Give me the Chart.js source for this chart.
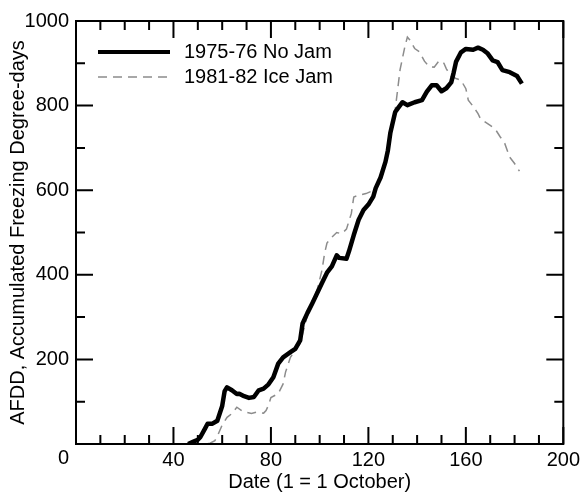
<!doctype html>
<html lang="en">

<head>
    <meta charset="utf-8">
    <title>AFDD chart</title>
    <script src="https://cdn.jsdelivr.net/npm/chart.js@4.4.0/dist/chart.umd.min.js"></script>
    <style>
        body { margin: 0; background: #fff; }
        #wrap { width: 584px; height: 494px; }
    </style>
</head>

<body>
    <div id="wrap"><canvas id="myChart"></canvas></div>

    <script type="text/javascript">
        // 1975-76 season (no jam), day number and AFDD
        var noJamDays = [46, 48, 50, 51, 53, 54, 56, 58, 60, 61, 62, 64, 66, 67, 69, 71, 73, 75, 77, 79,
            81, 83, 85, 88, 90, 92, 93, 95, 97, 99, 101, 103, 105, 107, 108, 111, 112, 114, 116, 118,
            120, 122, 123, 125, 127, 128, 129, 131, 132, 134, 136, 139, 142, 144, 146, 148, 150, 152, 154, 155,
            156, 158, 160, 163, 165, 167, 169, 171, 173, 175, 178, 181, 183];
        var noJamAfdd = [0, 5, 10, 16, 37, 48, 48, 55, 90, 125, 134, 127, 118, 119, 113, 109, 111, 127, 131, 141,
            158, 190, 205, 217, 225, 245, 285, 310, 333, 357, 381, 405, 420, 446, 440, 438, 455, 494, 530, 553,
            566, 585, 605, 630, 667, 694, 735, 785, 793, 808, 801, 808, 813, 833, 848, 848, 834, 841, 855, 878,
            904, 926, 934, 932, 937, 932, 923, 907, 903, 884, 879, 870, 852];

        // 1981-82 season (ice jam)
        var iceJamDays = [48, 52, 55, 57, 58, 60, 62, 64, 66, 68, 70, 72, 74, 77, 78, 79, 80, 83, 85, 86,
            88, 90, 92, 93, 95, 97, 99, 101, 102, 103, 105, 107, 109, 111, 113, 114, 116, 119, 121, 123,
            125, 127, 128, 129, 131, 133, 135, 136, 137, 139, 141, 143, 145, 147, 149, 151, 152, 154, 156, 158,
            160, 161, 163, 165, 166, 168, 170, 172, 174, 176, 178, 180, 182];
        var iceJamAfdd = [0, 0, 2, 8, 18, 45, 63, 72, 87, 79, 75, 72, 75, 73, 79, 92, 110, 119, 142, 170,
            205, 222, 238, 260, 305, 338, 365, 412, 450, 475, 489, 500, 497, 508, 545, 584, 588, 592, 597, 607,
            628, 665, 700, 740, 790, 885, 940, 962, 955, 935, 927, 905, 892, 891, 906, 900, 887, 869, 864, 860,
            840, 813, 798, 781, 769, 761, 753, 745, 727, 710, 678, 663, 645];

        var seriesNames = ['1975-76 No Jam', '1981-82 Ice Jam'];
        var xTitle = 'Date (1 = 1 October)';
        var yTitle = 'AFDD, Accumulated Freezing Degree-days';

        function toPoints(days, vals) {
            return days.map((d, i) => ({ x: d, y: vals[i] }));
        }

        Chart.defaults.font.family = "'Liberation Sans', Arial, sans-serif";
        Chart.defaults.font.size = 20;
        Chart.defaults.color = '#000';

        // inward tick marks on all four sides, plus the frame
        const frameTicks = {
            id: 'frameTicks',
            afterDraw(chart) {
                const ctx = chart.ctx;
                const a = chart.chartArea;
                const xs = chart.scales.x;
                const ys = chart.scales.y;
                ctx.save();
                ctx.strokeStyle = '#000';
                ctx.lineWidth = 2;
                ctx.strokeRect(a.left, a.top, a.right - a.left, a.bottom - a.top);
                ctx.beginPath();
                xs.ticks.forEach(t => {
                    const p = xs.getPixelForValue(t.value);
                    const len = t.value % 40 === 0 ? 17 : 9;
                    ctx.moveTo(p, a.bottom); ctx.lineTo(p, a.bottom - len);
                    ctx.moveTo(p, a.top); ctx.lineTo(p, a.top + len);
                });
                ys.ticks.forEach(t => {
                    const p = ys.getPixelForValue(t.value);
                    const len = t.value % 200 === 0 ? 17 : 9;
                    ctx.moveTo(a.left, p); ctx.lineTo(a.left + len, p);
                    ctx.moveTo(a.right, p); ctx.lineTo(a.right - len, p);
                });
                ctx.stroke();

                // shared "0" in the corner
                ctx.font = "20px 'Liberation Sans', Arial, sans-serif";
                ctx.fillStyle = '#000';
                ctx.textAlign = 'right';
                ctx.textBaseline = 'middle';
                ctx.fillText('0', a.left - 7, a.bottom + 14);

                // legend inside the plot
                chart.data.datasets.forEach((ds, i) => {
                    const y = a.top + 31 + i * 25;
                    ctx.beginPath();
                    ctx.strokeStyle = ds.borderColor;
                    ctx.lineWidth = i === 0 ? 4 : ds.borderWidth;
                    ctx.setLineDash(ds.borderDash || []);
                    ctx.moveTo(a.left + 22, y);
                    ctx.lineTo(a.left + 94, y);
                    ctx.stroke();
                    ctx.setLineDash([]);
                    ctx.textAlign = 'left';
                    ctx.fillText(ds.label, a.left + 108, y);
                });
                ctx.restore();
            }
        };

        var ctx = document.getElementById('myChart');
        var chart = new Chart(ctx, {
            type: 'line',
            data: {
                datasets: [{
                    label: seriesNames[0],
                    data: toPoints(noJamDays, noJamAfdd),
                    borderColor: '#000',
                    borderWidth: 4.5,
                    borderJoinStyle: 'round',
                    pointRadius: 0,
                    tension: 0
                }, {
                    label: seriesNames[1],
                    data: toPoints(iceJamDays, iceJamAfdd),
                    borderColor: '#8c8c8c',
                    borderWidth: 1.5,
                    borderDash: [9, 6],
                    pointRadius: 0,
                    tension: 0
                }]
            },
            options: {
                responsive: true,
                maintainAspectRatio: false,
                animation: false,
                layout: { padding: { top: 21, right: 20, left: 0, bottom: 0 } },
                plugins: {
                    legend: { display: false },
                    tooltip: { enabled: false }
                },
                scales: {
                    x: {
                        type: 'linear',
                        min: 0,
                        max: 200,
                        grid: { display: false, drawTicks: false },
                        border: { display: false },
                        ticks: {
                            stepSize: 10,
                            autoSkip: false,
                            maxRotation: 0,
                            padding: 4,
                            callback: v => (v % 40 === 0 && v !== 0) ? v : ''
                        },
                        title: { display: true, text: xTitle, padding: { top: 0, bottom: 0 } },
                        afterFit: s => { s.height = 50; }
                    },
                    y: {
                        min: 0,
                        max: 1000,
                        grid: { display: false, drawTicks: false },
                        border: { display: false },
                        ticks: {
                            stepSize: 100,
                            autoSkip: false,
                            padding: 7,
                            callback: v => (v % 200 === 0 && v !== 0) ? v : ''
                        },
                        title: { display: true, text: yTitle, padding: { top: 6, bottom: 0 } },
                        afterFit: s => { s.width = 76; }
                    }
                }
            },
            plugins: [frameTicks]
        });
    </script>
</body>

</html>
